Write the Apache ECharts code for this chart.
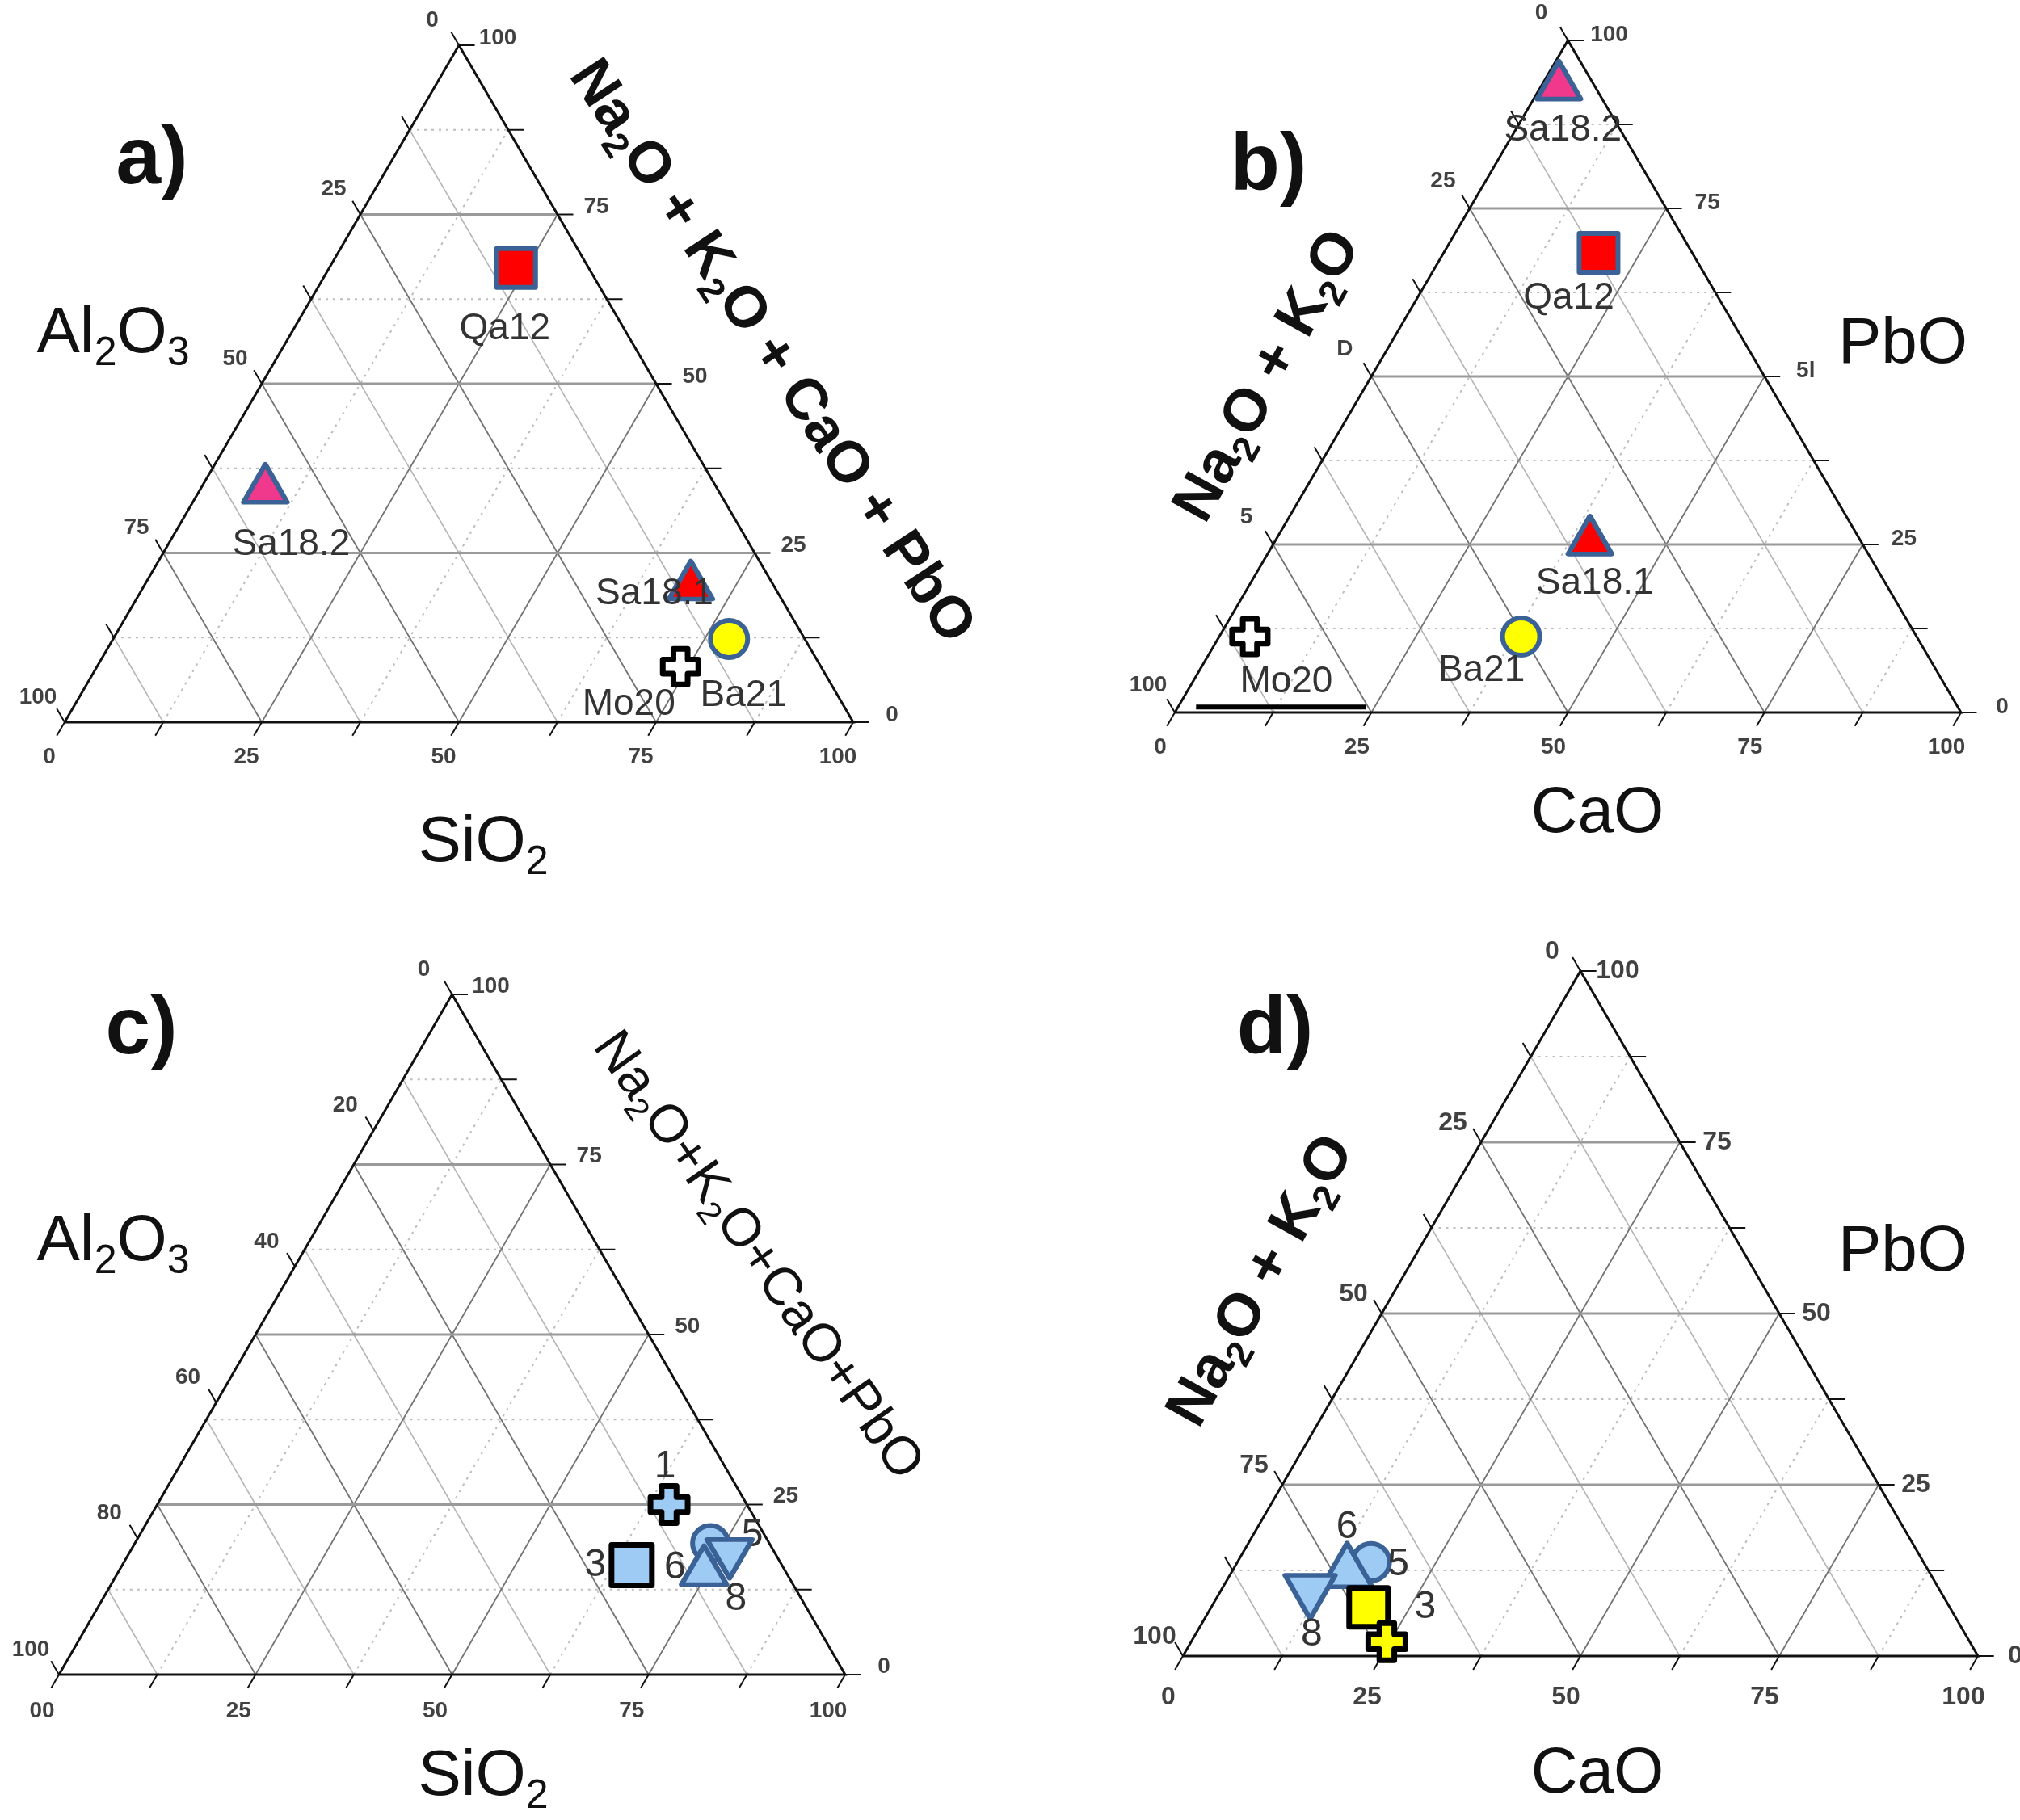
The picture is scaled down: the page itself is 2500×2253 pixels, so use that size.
<!DOCTYPE html>
<html>
<head>
<meta charset="utf-8">
<title>Ternary diagrams a-d</title>
<script src="https://cdn.jsdelivr.net/npm/echarts@6/dist/echarts.min.js"></script>
<style>
  html, body { margin: 0; padding: 0; background: #fff; }
  #chart { width: 2500px; height: 2253px; }
</style>
</head>
<body>
<div id="chart"></div>
<script>
// ---------- data (wt%) ----------
// a) SiO2 / Al2O3 / (Na2O+K2O+CaO+PbO)   b) CaO / (Na2O+K2O) / PbO
const samplesAB = ['Qa12', 'Sa18.2', 'Sa18.1', 'Ba21', 'Mo20'];
const aSiO2 = [23.7, 7.8, 68.9, 78.1, 74.0];
const aFlux = [67.1, 35.3, 21.0, 12.3, 8.2];
const bCaO = [19.7, 1.8, 39.6, 38.4, 3.9];
const bPbO = [68.4, 94.1, 26.4, 11.3, 11.3];

// c) / d) same axes, samples 1..8
const samplesCD = ['5', '6', '8', '3', '1'];
const cSiO2 = [73.2, 74.0, 76.8, 64.8, 65.1];
const cFlux = [19.3, 16.1, 17.0, 16.1, 25.0];
const dCaO = [16.8, 14.0, 11.7, 19.8, 24.6];
const dPbO = [13.7, 13.3, 8.6, 7.1, 2.1];

// stray bar drawn along the base of b) (CaO, PbO)
const bBarCaO = [2.3, 23.9];
const bBarPbO = [0.8, 0.8];

// ticks and tick labels
const majorVals = [25, 50, 75];
const minorVals = [12.5, 37.5, 62.5, 87.5];
const tickVals = [0, 12.5, 25, 37.5, 50, 62.5, 75, 87.5, 100];
const quarterVals = [0, 25, 50, 75, 100];
const leftLabelsA = ['0', '25', '50', '75', '100'];
const rightLabelsA = ['0', '25', '50', '75', '100'];
const bottomLabelsA = ['0', '25', '50', '75', '100'];
const leftLabelsB = ['0', '25', 'D', '5', '100'];
const rightLabelsB = ['0', '25', '5l', '75', '100'];
const leftValsC = [0, 20, 40, 60, 80, 100];
const leftLabelsC = ['0', '20', '40', '60', '80', '100'];
const bottomLabelsC = ['00', '25', '50', '75', '100'];

// ---------- helpers ----------
const SQ = Math.sqrt(3) / 2;
const PAD = 6;
const FONT = "'Liberation Sans', Arial, sans-serif";
// b = bottom component, t = top component
function toXY(b, t) { return [b + t / 2, t * SQ]; }

const BLUE = '#3b6296';
const LIGHT = '#9dcbf4';

const panels = [
  { box: [80, 894, 976, 838], bottom: quarterVals, bottomText: bottomLabelsA,
    left: quarterVals, leftText: leftLabelsA, rightText: rightLabelsA,
    off: { l: [-33, -31], r: [48, -9], b: [-19, 43] }, tickFont: 28,
    names: samplesAB, bv: aSiO2, tv: aFlux,
    styles: {
      'Qa12': { symbol: 'rect', size: 48, fill: '#ff0000', stroke: BLUE, bw: 6, lab: [-14, 76] },
      'Sa18.2': { symbol: 'triangle', size: [54, 47], fill: '#f0388c', stroke: BLUE, bw: 6, lab: [32, 76] },
      'Sa18.1': { symbol: 'triangle', size: [54, 47], fill: '#ff0000', stroke: BLUE, bw: 6, lab: [-45, 17] },
      'Ba21': { symbol: 'circle', size: 46, fill: '#ffff00', stroke: BLUE, bw: 6, lab: [18, 70] },
      'Mo20': { symbol: 'cross', size: 44, fill: '#ffffff', stroke: '#000', bw: 7, lab: [-64, 47] }
    }, labFont: 46 },
  { box: [1454, 882, 973, 832], bottom: quarterVals, bottomText: bottomLabelsA,
    left: quarterVals, leftText: leftLabelsB, rightText: rightLabelsB,
    off: { l: [-33, -34], r: [51, -7], b: [-18, 43] }, tickFont: 28,
    names: samplesAB, bv: bCaO, tv: bPbO,
    styles: {
      'Qa12': { symbol: 'rect', size: 48, fill: '#ff0000', stroke: BLUE, bw: 6, lab: [-37, 56] },
      'Sa18.2': { symbol: 'triangle', size: [54, 47], fill: '#f0388c', stroke: BLUE, bw: 6, lab: [5, 62] },
      'Sa18.1': { symbol: 'triangle', size: [54, 47], fill: '#ff0000', stroke: BLUE, bw: 6, lab: [6, 60] },
      'Ba21': { symbol: 'circle', size: 46, fill: '#ffff00', stroke: BLUE, bw: 6, lab: [-49, 42] },
      'Mo20': { symbol: 'cross', size: 44, fill: '#ffffff', stroke: '#000', bw: 7, lab: [45, 56] }
    }, labFont: 46, bar: true },
  { box: [73, 2073, 973, 842], bottom: quarterVals, bottomText: bottomLabelsC,
    left: leftValsC, leftText: leftLabelsC, rightText: rightLabelsA,
    off: { l: [-35, -31], r: [48, -10], b: [-21, 45] }, tickFont: 28,
    names: samplesCD, bv: cSiO2, tv: cFlux,
    styles: {
      '5': { symbol: 'circle', size: 44, fill: LIGHT, stroke: BLUE, bw: 6, lab: [52, -10] },
      '6': { symbol: 'triangle', size: [56, 48], fill: LIGHT, stroke: BLUE, bw: 6, lab: [-36, 3] },
      '8': { symbol: 'triangle', rot: 180, size: [56, 48], fill: LIGHT, stroke: BLUE, bw: 6, lab: [8, 50] },
      '3': { symbol: 'rect', size: 50, fill: LIGHT, stroke: '#000', bw: 7, lab: [-45, 0] },
      '1': { symbol: 'cross', size: 46, fill: LIGHT, stroke: '#000', bw: 7, lab: [-5, -47] }
    }, labFont: 48 },
  { box: [1464, 2050, 984, 848], bottom: quarterVals, bottomText: bottomLabelsA,
    left: quarterVals, leftText: leftLabelsA, rightText: rightLabelsA,
    off: { l: [-35, -24], r: [46, 0], b: [-18, 51] }, tickFont: 32,
    names: samplesCD, bv: dCaO, tv: dPbO,
    styles: {
      '5': { symbol: 'circle', size: 46, fill: LIGHT, stroke: BLUE, bw: 6, lab: [34, 3] },
      '6': { symbol: 'triangle', size: [62, 54], fill: LIGHT, stroke: BLUE, bw: 6, lab: [0, -46] },
      '8': { symbol: 'triangle', rot: 180, size: [62, 54], fill: LIGHT, stroke: BLUE, bw: 6, lab: [2, 47] },
      '3': { symbol: 'rect', size: 48, fill: '#ffff00', stroke: '#000', bw: 7, lab: [70, 0] },
      '1': { symbol: 'cross', size: 46, fill: '#ffff00', stroke: '#000', bw: 7, lab: null }
    }, labFont: 48 }
];

const CROSS = 'path://M3,0H7V3H10V7H7V10H3V7H0V3H3Z';

function hLine(v) { return [toXY(0, v), toXY(100 - v, v)]; }
function sLine(v) { return [toXY(v, 0), toXY(v, 100 - v)]; }
function rLine(v) { return [toXY(100 - v, 0), toXY(0, 100 - v)]; }

function linesSeries(i, segs, style, z) {
  return {
    type: 'lines', coordinateSystem: 'cartesian2d', xAxisIndex: i, yAxisIndex: i,
    silent: true, z: z, polyline: true,
    lineStyle: Object.assign({ opacity: 1 }, style),
    data: segs.map(s => ({ coords: s }))
  };
}

function labelSeries(i, pts, texts, off, size) {
  return {
    type: 'scatter', xAxisIndex: i, yAxisIndex: i, silent: true, z: 5, clip: false,
    symbolSize: 0,
    data: pts.map((p, k) => ({ name: texts[k], value: p })),
    label: {
      show: true, position: 'inside', offset: off, formatter: '{b}',
      fontFamily: FONT, fontWeight: 'bold', fontSize: size, color: '#111'
    }
  };
}

// rich text with subscript digits
function chem(str) {
  return str.replace(/([^0-9]+)|([0-9]+)/g, (m, a, d) => a ? '{n|' + a + '}' : '{s|' + d + '}');
}
function richStyle(size, bold) {
  const fw = bold ? 'bold' : 'normal';
  return {
    n: { fontSize: size, fontFamily: FONT, fontWeight: fw, fill: '#111', lineHeight: size },
    s: { fontSize: Math.round(size * 0.62), fontFamily: FONT, fontWeight: fw, fill: '#111',
         lineHeight: Math.round(size * 0.62), padding: [Math.round(size * 0.6), 0, 0, 0] }
  };
}

const titles = [
  { text: 'a)', x: 188, y: 199, size: 100, letter: true },
  { text: 'Al2O3', x: 140, y: 414, size: 80 },
  { text: 'SiO2', x: 598, y: 1044, size: 80 },
  { text: 'Na2O + K2O + CaO + PbO', x: 954, y: 436, size: 72, rot: -56.5, bold: true },
  { text: 'b)', x: 1570, y: 207, size: 100, letter: true },
  { text: 'Na2O + K2O', x: 1570, y: 466, size: 74, rot: 61, bold: true },
  { text: 'PbO', x: 2355, y: 427, size: 80 },
  { text: 'CaO', x: 1977, y: 1008, size: 80 },
  { text: 'c)', x: 175, y: 1276, size: 100, letter: true },
  { text: 'Al2O3', x: 140, y: 1538, size: 80 },
  { text: 'SiO2', x: 598, y: 2200, size: 80 },
  { text: 'Na2O+K2O+CaO+PbO', x: 937, y: 1555, size: 66, rot: -55 },
  { text: 'd)', x: 1578, y: 1276, size: 100, letter: true },
  { text: 'Na2O + K2O', x: 1562, y: 1586, size: 74, rot: 61, bold: true },
  { text: 'PbO', x: 2355, y: 1551, size: 80 },
  { text: 'CaO', x: 1977, y: 2197, size: 80 }
];

const option = {
  animation: false,
  backgroundColor: '#ffffff',
  grid: [], xAxis: [], yAxis: [], series: [],
  graphic: titles.map(t => ({
    type: 'text', x: t.x, y: t.y,
    rotation: (t.rot || 0) * Math.PI / 180,
    style: t.letter
      ? { text: t.text, font: 'bold ' + t.size + 'px ' + FONT, fill: '#111', align: 'center', verticalAlign: 'middle' }
      : { text: chem(t.text), rich: richStyle(t.size, t.bold), align: 'center', verticalAlign: 'middle' }
  }))
};

panels.forEach((p, i) => {
  const [bx, by, w, h] = p.box;
  const sx = w / 100, sy = h / (100 * SQ);
  option.grid.push({
    left: bx - PAD * sx, top: by - h - PAD * sy, width: w + 2 * PAD * sx, height: h + 2 * PAD * sy,
    containLabel: false, outerBoundsMode: 'none'
  });
  option.xAxis.push({ type: 'value', gridIndex: i, min: -PAD, max: 100 + PAD, show: false });
  option.yAxis.push({ type: 'value', gridIndex: i, min: -PAD, max: 100 * SQ + PAD, show: false });

  // grid lines
  option.series.push(linesSeries(i, minorVals.map(hLine).concat(minorVals.map(sLine)),
    { color: '#bdbdbd', width: 2, type: [3, 6] }, 1));
  option.series.push(linesSeries(i, minorVals.map(rLine), { color: '#b4b4b4', width: 1.5 }, 1));
  option.series.push(linesSeries(i, majorVals.map(sLine).concat(majorVals.map(rLine)),
    { color: '#737373', width: 1.8 }, 2));
  option.series.push(linesSeries(i, majorVals.map(hLine), { color: '#9a9a9a', width: 3 }, 2));

  // ticks
  const TL = 2;
  const ticks = []
    .concat(tickVals.map(v => [toXY(v, 0), toXY(v, -TL)]))
    .concat(tickVals.map(v => [toXY(100 - v, v), toXY(100 - v + TL, v)]))
    .concat((i === 2 ? leftValsC : tickVals).map(v => [toXY(0, 100 - v), toXY(-TL, 100 - v + TL)]));
  option.series.push(linesSeries(i, ticks, { color: '#111', width: 2 }, 3));

  // outline
  option.series.push(linesSeries(i, [[toXY(0, 0), toXY(100, 0), toXY(0, 100), toXY(0, 0)]],
    { color: '#111', width: 3 }, 3));

  if (p.bar) {
    option.series.push(linesSeries(i, [bBarCaO.map((c, k) => toXY(c, bBarPbO[k]))],
      { color: '#000', width: 6 }, 3));
  }

  // tick labels
  option.series.push(labelSeries(i, p.bottom.map(v => toXY(v, 0)), p.bottomText, p.off.b, p.tickFont));
  option.series.push(labelSeries(i, quarterVals.map(v => toXY(100 - v, v)), p.rightText, p.off.r, p.tickFont));
  option.series.push(labelSeries(i, p.left.map(v => toXY(0, 100 - v)), p.leftText, p.off.l, p.tickFont));

  // samples
  p.names.forEach((name, k) => {
    const st = p.styles[name];
    option.series.push({
      type: 'scatter', xAxisIndex: i, yAxisIndex: i, z: 10 + k, clip: false,
      symbol: st.symbol === 'cross' ? CROSS : st.symbol,
      symbolSize: st.size, symbolRotate: st.rot || 0,
      itemStyle: { color: st.fill, borderColor: st.stroke, borderWidth: st.bw, borderJoin: 'round', opacity: 1 },
      data: [{ name: name, value: toXY(p.bv[k], p.tv[k]) }],
      label: {
        show: !!st.lab, position: 'inside', offset: st.lab || [0, 0], formatter: '{b}',
        fontFamily: FONT, fontSize: p.labFont, color: '#333'
      }
    });
  });
});

const chart = echarts.init(document.getElementById('chart'));
chart.setOption(option);
window.addEventListener('resize', () => chart.resize());
</script>
</body>
</html>
